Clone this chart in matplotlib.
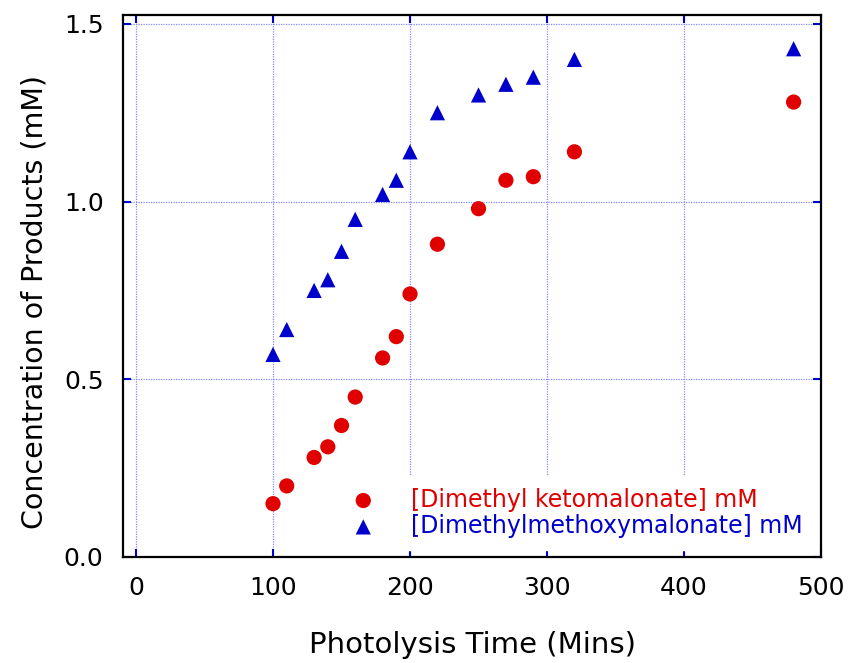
import matplotlib
matplotlib.use("Agg")
import matplotlib.pyplot as plt

# Photolysis time (mins)
time = [100, 110, 130, 140, 150, 160, 180, 190, 200, 220, 250, 270, 290, 320, 480]

# [Dimethyl ketomalonate] mM
ketomalonate = [0.15, 0.20, 0.28, 0.31, 0.37, 0.45, 0.56, 0.62, 0.74, 0.88,
                0.98, 1.06, 1.07, 1.14, 1.28]

# [Dimethylmethoxymalonate] mM
methoxymalonate = [0.57, 0.64, 0.75, 0.78, 0.86, 0.95, 1.02, 1.06, 1.14, 1.25,
                   1.30, 1.33, 1.35, 1.40, 1.43]

x_ticks = [0, 100, 200, 300, 400, 500]
y_ticks = [0.0, 0.5, 1.0, 1.5]

plt.rcParams['font.family'] = ['DejaVu Sans']

fig = plt.figure(figsize=(8.5, 6.63), dpi=100)
ax = fig.add_axes([0.1447, 0.1599, 0.8212, 0.8175])

ax.scatter(time, ketomalonate, color='#e00000', marker='o', s=120,
           edgecolors='none', label='[Dimethyl ketomalonate] mM', zorder=3)
ax.scatter(time, methoxymalonate, color='#0000cc', marker='^', s=120,
           edgecolors='none', label='[Dimethylmethoxymalonate] mM', zorder=3)

ax.set_xlim(-9.5, 500)
ax.set_ylim(0, 1.525)
ax.set_xticks(x_ticks)
ax.set_yticks(y_ticks)
ax.set_yticklabels(['%.1f' % v for v in y_ticks])

ax.grid(True, color='#7a7aff', linestyle=(0, (1, 1)), linewidth=0.9, alpha=0.9)
ax.set_axisbelow(True)

ax.tick_params(direction='in', color='#0000cc', length=6, width=1.5,
               top=True, right=True, labelsize=18)
ax.tick_params(axis='x', pad=14)
ax.tick_params(axis='y', pad=14)
for sp in ax.spines.values():
    sp.set_linewidth(1.6)
    sp.set_color('black')

ax.set_xlabel('Photolysis Time (Mins)', fontsize=21, labelpad=22)
ax.set_ylabel('Concentration of Products (mM)', fontsize=20.5)
ax.yaxis.set_label_coords(-0.107, 0.47)

leg = ax.legend(loc='lower right', bbox_to_anchor=(1, 0), fontsize=17,
                frameon=True, fancybox=False, framealpha=1, facecolor='white',
                edgecolor='white', borderaxespad=0.3, handletextpad=1.0,
                labelspacing=0.1, borderpad=0.5, scatterpoints=1)
leg.set_zorder(2)
for txt, c in zip(leg.get_texts(), ['#e00000', '#0000cc']):
    txt.set_color(c)

fig.savefig('out.png', dpi=100)
